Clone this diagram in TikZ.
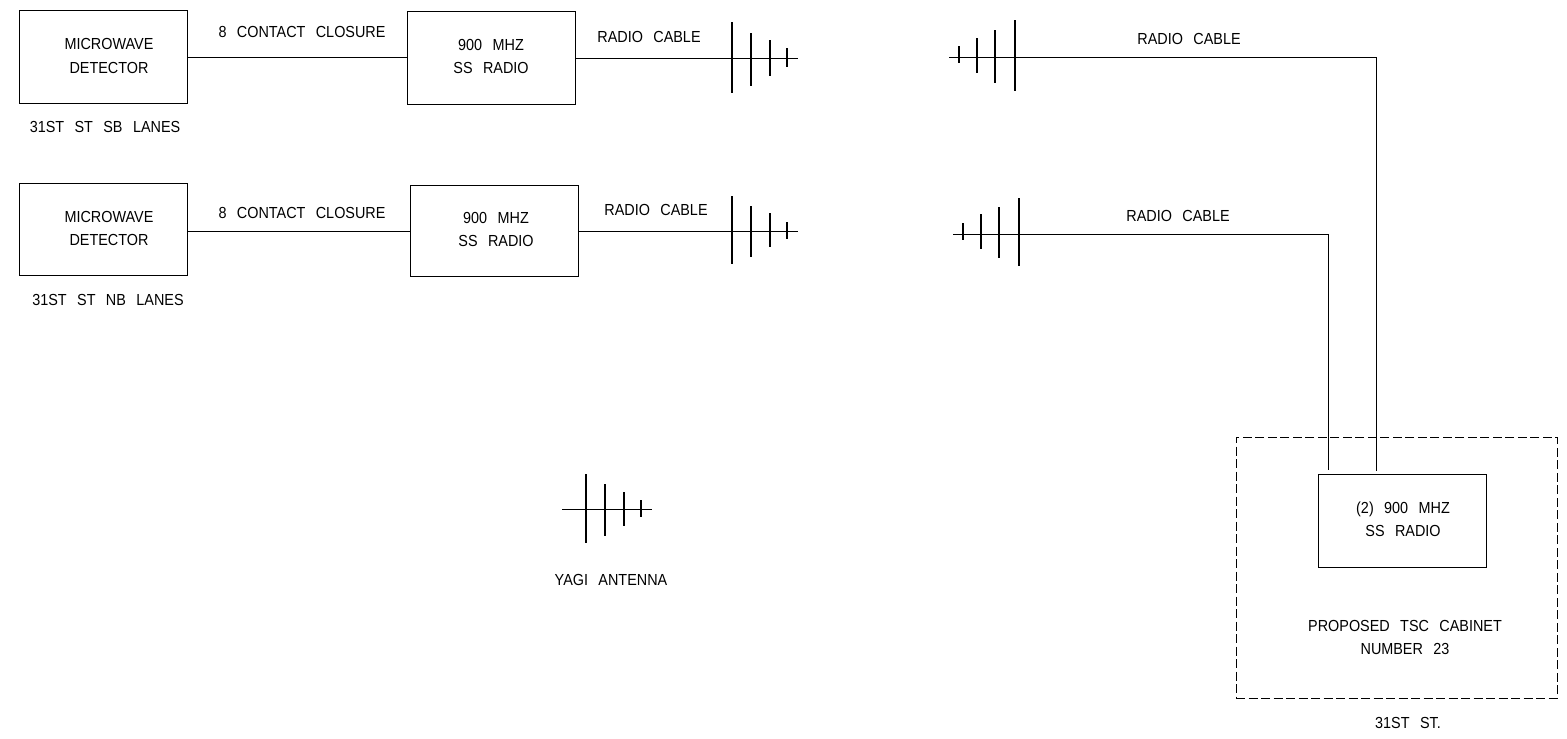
\documentclass[tikz,border=0pt]{standalone}
\usepackage{fontspec}
\setmainfont[FakeStretch=0.9,WordSpace=2.6]{Liberation Sans}
\tikzset{
  box/.style={draw,line width=1pt,rectangle,inner sep=0pt,outer sep=0pt,anchor=north west},
  cabinet/.style={draw,dash pattern=on 9pt off 3.5pt,line width=0.9pt,rectangle,inner sep=0pt,outer sep=0pt,anchor=north west},
  lbl/.style={anchor=base,inner sep=0pt,font=\fontsize{16}{18}\selectfont},
  cable/.style={line width=1pt},
  element/.style={line width=1.2pt}
}
\begin{document}
\begin{tikzpicture}[x=1pt,y=-1pt]
\useasboundingbox (0,0) rectangle (1567,739);
% boxes
\node[box,minimum width=168pt,minimum height=93pt] (det1) at (19,10) {};
\node[box,minimum width=168pt,minimum height=93pt] (rad1) at (407,11) {};
\node[box,minimum width=168pt,minimum height=92pt] (det2) at (19,183) {};
\node[box,minimum width=168pt,minimum height=91pt] (rad2) at (410,185) {};
\node[cabinet,minimum width=321pt,minimum height=261pt] (cab) at (1236,437) {};
\node[box,minimum width=168pt,minimum height=93pt] (rad3) at (1318,474) {};
% labels
\node[lbl] (t1) at (109,49) {MICROWAVE};
\node[lbl] (t2) at (109,73) {DETECTOR};
\node[lbl] (t3) at (105,132) {31ST ST SB LANES};
\node[lbl] (t4) at (302,37) {8 CONTACT CLOSURE};
\node[lbl] (t5) at (491,50) {900 MHZ};
\node[lbl] (t6) at (491,73) {SS RADIO};
\node[lbl] (t7) at (649,42) {RADIO CABLE};
\node[lbl] (t8) at (1189,44) {RADIO CABLE};
\node[lbl] (t9) at (109,222) {MICROWAVE};
\node[lbl] (t10) at (109,245) {DETECTOR};
\node[lbl] (t11) at (108,305) {31ST ST NB LANES};
\node[lbl] (t12) at (302,218) {8 CONTACT CLOSURE};
\node[lbl] (t13) at (496,223) {900 MHZ};
\node[lbl] (t14) at (496,246) {SS RADIO};
\node[lbl] (t15) at (656,215) {RADIO CABLE};
\node[lbl] (t16) at (1178,221) {RADIO CABLE};
\node[lbl] (t17) at (1403,513) {(2) 900 MHZ};
\node[lbl] (t18) at (1403,536) {SS RADIO};
\node[lbl] (t19) at (1405,631) {PROPOSED TSC CABINET};
\node[lbl] (t20) at (1405,654) {NUMBER 23};
\node[lbl] (t21) at (1408,728) {31ST ST.};
\node[lbl] (t22) at (611,585) {YAGI ANTENNA};
% free ends
\coordinate (a1) at (798,58);
\coordinate (a2) at (798,231);
\coordinate (b1) at (949,57);
\coordinate (b2) at (953,234);
\coordinate (e1) at (1376,471);
\coordinate (e2) at (1328,470);
\coordinate (y1) at (562,509);
\coordinate (y2) at (652,509);
% connectors
\draw[cable] (det1.east |- 0,57) -- (rad1.west |- 0,57);
\draw[cable] (rad1.east |- a1) -- (a1);
\draw[cable] (det2.east |- 0,231) -- (rad2.west |- 0,231);
\draw[cable] (rad2.east |- a2) -- (a2);
\draw[cable] (b1) -| (e1);
\draw[cable] (b2) -| (e2);
\draw[cable] (y1) -- (y2);
% antenna elements
\draw[element]
  (732,22)--(732,93) (751,33)--(751,86) (770,40)--(770,76) (787,48)--(787,67)
  (732,196)--(732,264) (751,206)--(751,257) (770,213)--(770,247) (787,222)--(787,239)
  (959,46)--(959,63) (977,38)--(977,73) (995,30)--(995,83) (1015,20)--(1015,91)
  (963,223)--(963,240) (981,214)--(981,249) (999,207)--(999,258) (1019,198)--(1019,266)
  (586,474)--(586,543) (605,484)--(605,536) (624,492)--(624,526) (641,500)--(641,517);
\end{tikzpicture}
\end{document}
